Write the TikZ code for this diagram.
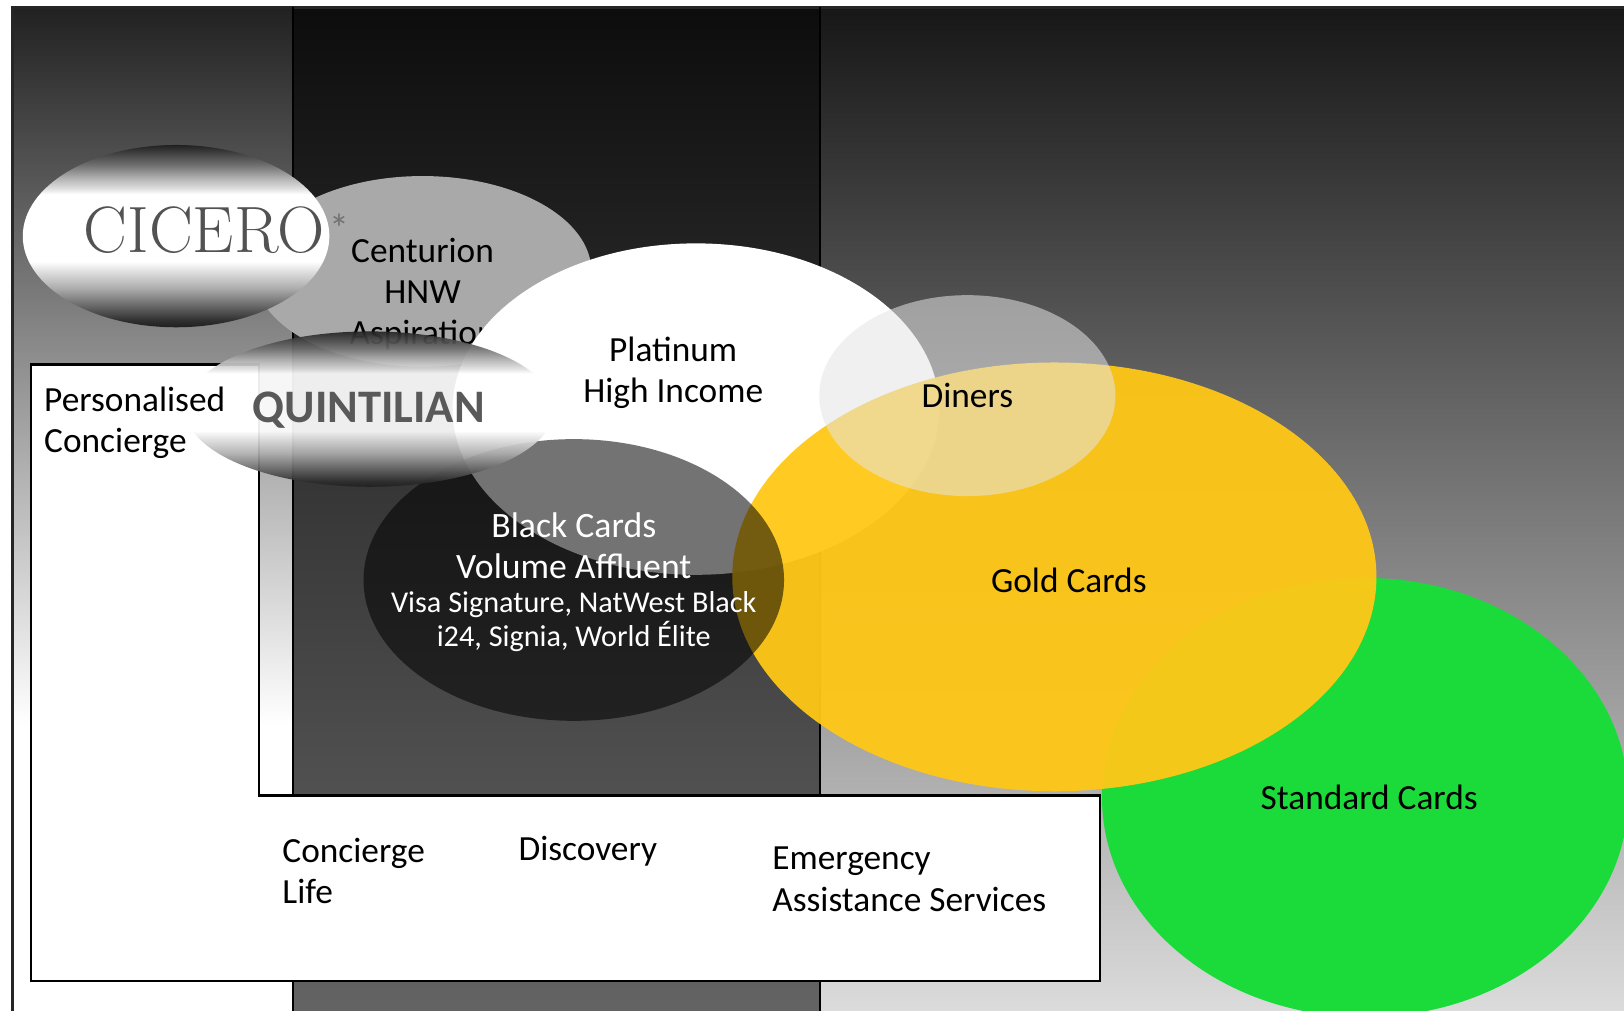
\documentclass[tikz,border=0pt]{standalone}
\usepackage{fontspec}
\setmainfont{Carlito}
\newfontfamily\cicerofont{Latin Modern Roman}
\usetikzlibrary{positioning}
\definecolor{goldcard}{HTML}{FFC817}
\definecolor{stdgreen}{HTML}{1ADB3A}
\definecolor{centgray}{HTML}{A9A9A9}
\definecolor{dinersgray}{HTML}{E4E4E4}
\pgfdeclareverticalshading{metal}{100bp}{color(0bp)=(black!88); color(25bp)=(black!88); color(27bp)=(black!81); color(31.5bp)=(black!56); color(36bp)=(black!31); color(40.5bp)=(black!12); color(43bp)=(white); color(61.5bp)=(white); color(63bp)=(black!12); color(66bp)=(black!31); color(69.5bp)=(black!56); color(75bp)=(black!87); color(100bp)=(black!87)}

\begin{document}
\begin{tikzpicture}[x=0.01cm, y=0.01cm,
    txt/.style={font=\fontsize{9.7}{11.3}\selectfont, align=center, inner sep=0pt},
    txtl/.style={txt, align=left, anchor=west}]

            \useasboundingbox (0,0) rectangle (1568,976);

            % three bands
            \fill[white] (12,0) rectangle (283,276);
            \shade[top color=black!87, bottom color=white] (12,276) rectangle (283,969);
            \shade[top color=black!95, middle color=black!75, bottom color=black!61] (283,0) rectangle (792,969);
            \shade[top color=black!91, middle color=black!43, bottom color=black!14] (792,0) rectangle (1568,969);
            \draw[line width=0.8pt, black!85] (12,0)--(12,969)--(1568,969);
            \draw[line width=0.5pt, black] (283,0)--(283,969);
            \draw[line width=0.5pt, black] (792,0)--(792,969);

            % services box
            \draw[fill=white, line width=0.6pt] (30,624)--(250,624)--(250,208)--(1062,208)--(1062,29)--(30,29)--cycle;

            \fill[centgray] (408,714) ellipse (163 and 92);
            \node[txt] (cent) at (408,692) {Centurion\\HNW\\Aspiration};
            \shade[shading=metal] (170,748) ellipse (148 and 88);
            \fill[white] (672,581) ellipse (235 and 160);
            \fill[stdgreen] (1318,206) ellipse (254 and 212);
            \fill[goldcard, opacity=0.95] (1018,419) ellipse (311 and 207);
            \fill[black, opacity=0.55] (554,416) ellipse (203 and 136);
            \shade[shading=metal, opacity=0.92] (357,581) ellipse (178 and 75);
            \fill[dinersgray, opacity=0.55] (934,594) ellipse (143 and 97);

            \node[inner sep=0pt, font=\cicerofont\fontsize{18}{21}\selectfont, text=black!68] (cic) at (197,754) {CICERO};
            \node[inner sep=0pt, font=\fontsize{11}{12}\selectfont, text=black!55] (ast) at (328,756) {*};
            \node[txt, font=\fontsize{12.8}{15}\selectfont\bfseries, text=black!65] (quin) at (356,580) {QUINTILIAN};
            \node[txt] (plat) at (650,616) {Platinum\\High Income};
            \node[txtl] (pers) at (42,568) {Personalised\\Concierge};
            \node[txt] (din) at (934,594) {Diners};
            \node[txt] (gold) at (1032,416) {Gold Cards};
            \node[txt] (std) at (1322,206) {Standard Cards};
            \node[txt, text=white, font=\fontsize{9.8}{11.3}\selectfont] (blk) at (554,449) {Black Cards\\Volume Affluent};
            \node[txt, text=white, font=\fontsize{8.3}{9.4}\selectfont] (visa) at (554,376) {Visa Signature, NatWest Black\\i24, Signia, World Élite};

            \node[txtl] (life) at (272,135) {Concierge\\Life};
            \node[txtl] (disc) at (500,154) {Discovery};
            \node[txtl] (emer) at (745,127) {Emergency\\Assistance Services};
            \end{tikzpicture}
\end{document}
